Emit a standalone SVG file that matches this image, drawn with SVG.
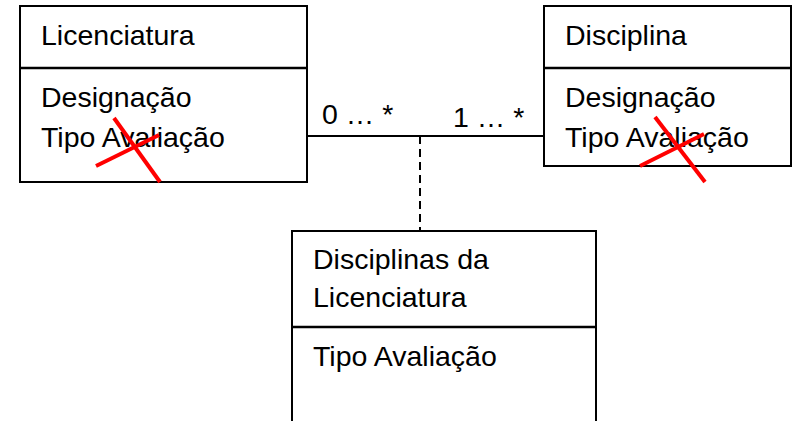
<svg xmlns="http://www.w3.org/2000/svg" width="792" height="421" viewBox="0 0 792 421">
<style>
.box{fill:#fff;stroke:#000;stroke-width:2}
.div{stroke:#000;stroke-width:2.5}
.t{font-family:"Liberation Sans",Arial,sans-serif;font-size:28.5px;fill:#000}
.x{stroke:#ff0000;stroke-width:4;stroke-linecap:butt}
.conn{stroke:#000;stroke-width:2;fill:none}
.dash{stroke:#000;stroke-width:2;stroke-dasharray:8 5;fill:none}
</style>
<rect width="792" height="421" fill="#fff"/>
<g id="connectors">
<line class="conn" x1="307" y1="136" x2="544" y2="136"/>
<line class="dash" x1="420" y1="136" x2="420" y2="231"/>
<text class="t" x="322" y="124">0 … *</text>
<text class="t" x="453" y="127">1 … *</text>
</g>
<g id="licenciatura">
<rect class="box" x="20" y="6" width="287" height="176"/>
<line class="div" x1="20" y1="68" x2="307" y2="68"/>
<text class="t" x="41" y="45">Licenciatura</text>
<text class="t" x="41" y="107">Designação</text>
<text class="t" x="41" y="147">Tipo Avaliação</text>
<line class="x" x1="96" y1="166" x2="159" y2="135"/>
<line class="x" x1="114" y1="118" x2="160" y2="182"/>
</g>
<g id="disciplina">
<rect class="box" x="544" y="6" width="247" height="160"/>
<line class="div" x1="544" y1="68" x2="791" y2="68"/>
<text class="t" x="565" y="45">Disciplina</text>
<text class="t" x="565" y="107">Designação</text>
<text class="t" x="565" y="147">Tipo Avaliação</text>
<line class="x" x1="640" y1="166" x2="704" y2="134"/>
<line class="x" x1="655" y1="117" x2="705" y2="182"/>
</g>
<g id="disciplinas-da-licenciatura">
<rect class="box" x="292" y="231" width="304" height="200"/>
<line class="div" x1="292" y1="327" x2="596" y2="327"/>
<text class="t" x="313" y="269">Disciplinas da</text>
<text class="t" x="313" y="307">Licenciatura</text>
<text class="t" x="313" y="366">Tipo Avaliação</text>
</g>
</svg>
